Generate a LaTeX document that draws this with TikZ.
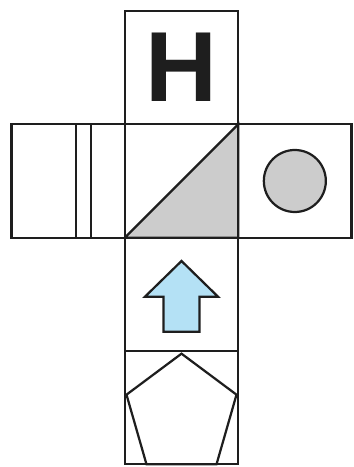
\documentclass[tikz,border=0pt]{standalone}
\usepackage{fontspec}
\setmainfont{Liberation Sans}
\usepackage{tikz}
\usetikzlibrary{positioning}
\definecolor{arrowblue}{RGB}{180,225,245}
\definecolor{shadegray}{RGB}{204,204,204}
\definecolor{inkdark}{RGB}{30,30,30}

\begin{document}
\begin{tikzpicture}[node distance=0cm, line width=1.9pt, line join=miter, draw=inkdark,
    face/.style={draw=inkdark, minimum width=3.4cm, minimum height=3.4cm, inner sep=0pt, outer sep=0pt}]
    \useasboundingbox (-5.445,5.43) rectangle (5.145,-8.58);
    \node[face] (mid) at (0,0) {};
    \node[face, above=of mid, text=inkdark] (top) {\fontsize{85}{85}\selectfont\bfseries H};
    \node[face, left=of mid] (lface) {};
    \node[face, right=of mid] (rface) {};
    \node[face, below=of mid] (arrowbox) {};
    \node[face, below=of arrowbox] (pentbox) {};

    % two lines on the left face
    \draw ([xshift=-1.47cm]lface.north east) -- ([xshift=-1.47cm]lface.south east);
    \draw ([xshift=-1.02cm]lface.north east) -- ([xshift=-1.02cm]lface.south east);
    % half shaded middle face
    \filldraw[fill=shadegray] (mid.south west) -- (mid.north east) -- (mid.south east) -- cycle;
    % circle on the right face
    \filldraw[fill=shadegray] (rface.center) circle (0.93cm);
    % arrow
    \filldraw[fill=arrowblue] ([yshift=1.0cm]arrowbox.center) -- ++(-1.1,-1.075) -- ++(0.56,0)
        -- ++(0,-1.045) -- ++(1.08,0) -- ++(0,1.045) -- ++(0.56,0) -- cycle;
    % pentagon
    \draw ([yshift=1.62cm]pentbox.center) -- ([shift={(-1.65,0.39)}]pentbox.center)
        -- ([shift={(-1.05,-1.7)}]pentbox.center) -- ([shift={(1.05,-1.7)}]pentbox.center)
        -- ([shift={(1.65,0.39)}]pentbox.center) -- cycle;
\end{tikzpicture}
\end{document}
